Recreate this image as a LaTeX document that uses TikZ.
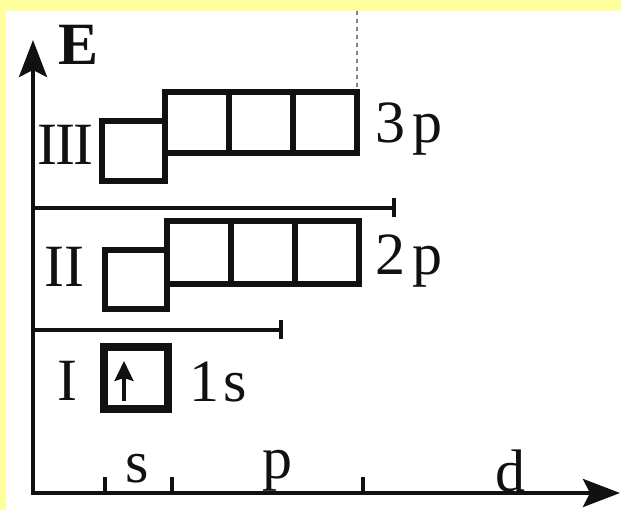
\documentclass[tikz,border=0pt]{standalone}
\usepackage{fontspec}
\setmainfont{Liberation Serif}
\usetikzlibrary{arrows.meta}
\definecolor{pageyellow}{RGB}{255,255,155}
\definecolor{ink}{RGB}{17,17,17}
\begin{document}
\begin{tikzpicture}[x=1pt,y=-1pt,
  axis/.style={line width=4pt, draw=ink},
  tickmark/.style={line width=3.5pt, draw=ink},
  levelline/.style={line width=4pt, draw=ink, -{Bar[width=19pt]}},
  cell/.style={line width=6.5pt, draw=ink},
  guide/.style={line width=2.5pt, draw=gray, dash pattern=on 4pt off 4pt},
  lbl/.style={inner sep=0pt, anchor=base, text=ink, font=\fontsize{60}{60}\selectfont},
  bigarrow/.tip={Stealth[length=37pt,width=28pt,inset=7pt]}
]
% page background with the yellow frame
\fill[pageyellow] (0,0) rectangle (621,510);
\fill[white] (6,11) rectangle (621,510);
\useasboundingbox (0,0) rectangle (621,510);

% axes
\coordinate (Etop) at (33,40);
\coordinate (O) at (33,493);
\coordinate (Xend) at (620,493);
\draw[axis, bigarrow-bigarrow] (Etop) -- (O) -- (Xend);
\node[lbl, font=\fontsize{60}{60}\selectfont\bfseries] (E) at (79,65) {E};

% ticks on the orbital axis
\foreach \x/\n in {105/ts, 172/tp, 363/td}
  \draw[tickmark] (\x,493) coordinate (\n) -- ++(0,-16);
\node[lbl] (ls) at (137,482) {s};
\node[lbl] (lp) at (277,478) {p};
\node[lbl] (ld) at (510,491) {d};

% separators between shells
\coordinate (s3) at (33,208);
\coordinate (e3) at (396,208);
\coordinate (s2) at (33,330);
\coordinate (e2) at (283,330);
\draw[levelline] (s3) -- (e3);
\draw[levelline] (s2) -- (e2);

% dotted guide above the 3p cells
\coordinate (g1) at (357,11);
\coordinate (g2) at (357,89);
\draw[guide] (g1) -- (g2);

% shell III
\draw[cell] (102,121) rectangle (165,181);
\draw[cell] (165,92) rectangle (357,153);
\draw[cell] (229,92) -- (229,153) (293,92) -- (293,153);
\node[lbl] (n3) at (65,165) {I\kern-2pt I\kern-2pt I};
\node[lbl] (o3) at (409,143) {3\kern7pt p};

% shell II
\draw[cell] (105,250) rectangle (167,309);
\draw[cell] (167,221) rectangle (359,284);
\draw[cell] (231,221) -- (231,284) (295,221) -- (295,284);
\node[lbl] (n2) at (64,287) {II};
\node[lbl] (o2) at (409,275) {2\kern7pt p};

% shell I with one electron
\draw[ink, line width=8pt] (104,347) rectangle (168,409);
\coordinate (spinlo) at (124,401);
\coordinate (spinhi) at (124,361);
\draw[ink, line width=3.2pt, -{Stealth[length=20pt,width=19pt,inset=3pt]}] (spinlo) -- (spinhi);
\node[lbl] (n1) at (67,400) {I};
\node[lbl] (o1) at (218,402) {1\kern4pt s};
\end{tikzpicture}
\end{document}
